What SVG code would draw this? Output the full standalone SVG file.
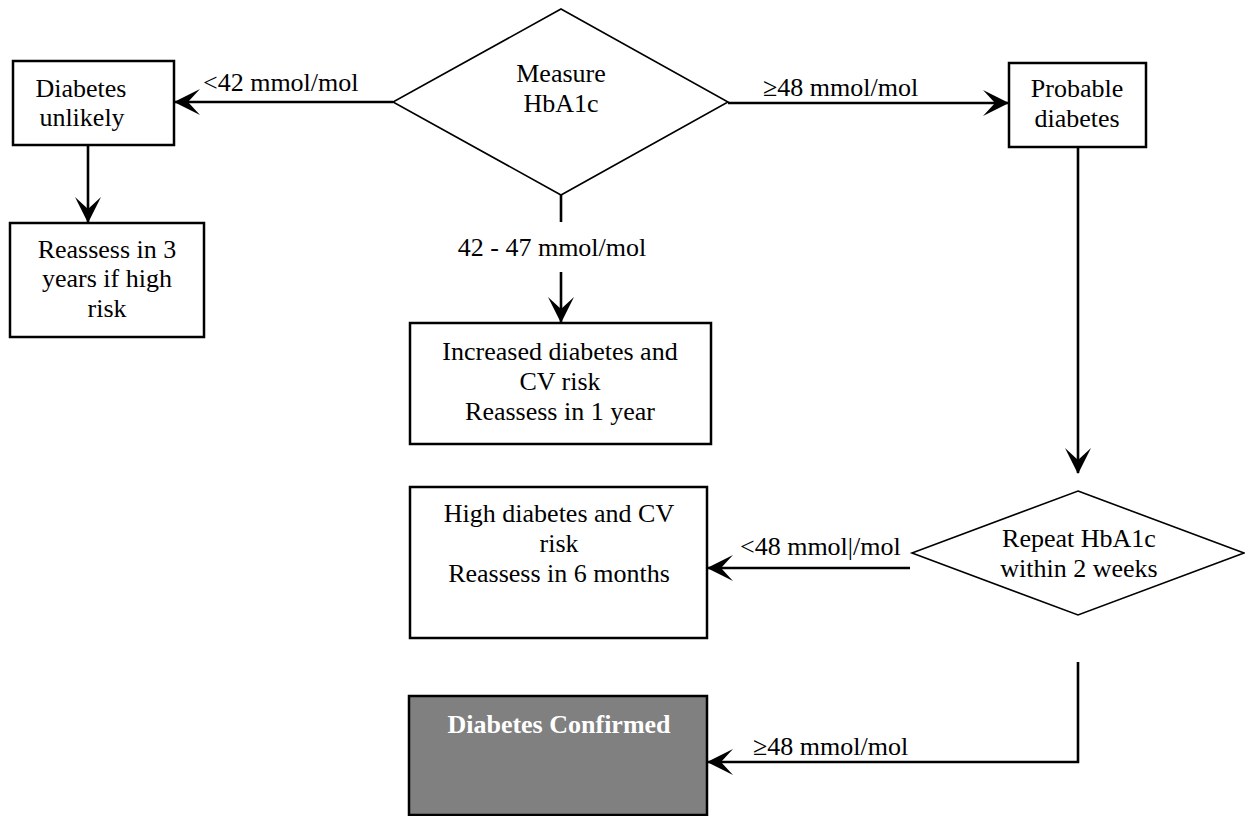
<svg xmlns="http://www.w3.org/2000/svg" width="1245" height="816" viewBox="0 0 1245 816">
<style>
  .box { fill: #ffffff; stroke: #000000; stroke-width: 2.5; }
  .dia { fill: #ffffff; stroke: #000000; stroke-width: 1.6; }
  .conn { fill: none; stroke: #000000; stroke-width: 2.6; }
  text { font-family: "Liberation Serif", "Times New Roman", serif; font-size: 26px; fill: #000000; }
  .c { text-anchor: middle; }
  .bold { font-weight: bold; fill: #ffffff; }
</style>
<defs>
  <marker id="arr" markerUnits="userSpaceOnUse" viewBox="0 0 26 28" refX="25" refY="14" markerWidth="26" markerHeight="28" orient="auto">
    <path d="M0,1 L26,14 L0,27 L12,14 Z" fill="#000000"/>
  </marker>
</defs>
<rect width="1245" height="816" fill="#ffffff"/>

<g id="connectors">
  <line class="conn" x1="393" y1="102" x2="175" y2="102" marker-end="url(#arr)"/>
  <line class="conn" x1="88" y1="146" x2="88" y2="222" marker-end="url(#arr)"/>
  <line class="conn" x1="728" y1="103" x2="1008" y2="103" marker-end="url(#arr)"/>
  <line class="conn" x1="561" y1="195" x2="561" y2="222"/>
  <line class="conn" x1="561" y1="272" x2="561" y2="322" marker-end="url(#arr)"/>
  <line class="conn" x1="1078" y1="147" x2="1078" y2="473" marker-end="url(#arr)"/>
  <line class="conn" x1="910" y1="568" x2="708" y2="568" marker-end="url(#arr)"/>
  <polyline class="conn" points="1078,662 1078,762 708,762" marker-end="url(#arr)"/>
  <text x="203" y="91">&lt;42 mmol/mol</text>
  <text x="763" y="96">≥48 mmol/mol</text>
  <text class="c" x="552" y="256">42 - 47 mmol/mol</text>
  <text x="740" y="555">&lt;48 mmol|/mol</text>
  <text x="753" y="755">≥48 mmol/mol</text>
</g>

<g id="measure">
  <polygon class="dia" points="561,9 728,102 561,195 393,102"/>
  <text class="c" x="561" y="82">Measure</text>
  <text class="c" x="561" y="112">HbA1c</text>
</g>

<g id="unlikely">
  <rect class="box" x="13" y="61" width="161" height="84"/>
  <text class="c" x="81" y="97">Diabetes</text>
  <text class="c" x="82" y="126">unlikely</text>
</g>

<g id="reassess3">
  <rect class="box" x="10" y="223" width="194" height="114"/>
  <text class="c" x="107" y="258">Reassess in 3</text>
  <text class="c" x="107" y="287">years if high</text>
  <text class="c" x="107" y="317">risk</text>
</g>

<g id="probable">
  <rect class="box" x="1009" y="63" width="137" height="84"/>
  <text class="c" x="1077" y="97">Probable</text>
  <text class="c" x="1077" y="127">diabetes</text>
</g>

<g id="increased">
  <rect class="box" x="410" y="323" width="301" height="121"/>
  <text class="c" x="560" y="360">Increased diabetes and</text>
  <text class="c" x="560" y="390">CV risk</text>
  <text class="c" x="560" y="420">Reassess in 1 year</text>
</g>

<g id="repeat">
  <polygon class="dia" points="1078,491 1244,553 1078,615 912,553"/>
  <text class="c" x="1079" y="547">Repeat HbA1c</text>
  <text class="c" x="1079" y="577">within 2 weeks</text>
</g>

<g id="high">
  <rect class="box" x="410" y="487" width="297" height="151"/>
  <text class="c" x="559" y="522">High diabetes and CV</text>
  <text class="c" x="559" y="552">risk</text>
  <text class="c" x="559" y="582">Reassess in 6 months</text>
</g>

<g id="confirmed">
  <rect class="box" x="409" y="696" width="298" height="119" style="fill:#808080"/>
  <text class="c bold" x="559" y="733">Diabetes Confirmed</text>
</g>
</svg>
